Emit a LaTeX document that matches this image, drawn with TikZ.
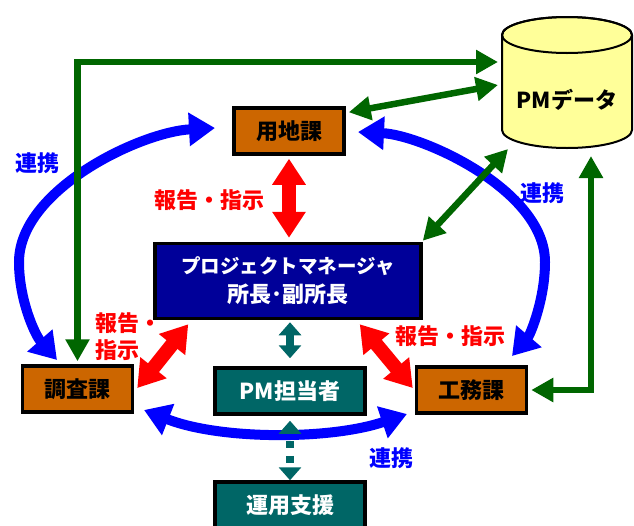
\documentclass[tikz,border=0pt]{standalone}
\usepackage{fontspec}
\setmainfont{Noto Sans CJK JP}
\usetikzlibrary{arrows.meta,calc}
\definecolor{orng}{HTML}{CC6600}
\definecolor{tealc}{HTML}{006666}
\definecolor{navy}{HTML}{000099}
\definecolor{dbfill}{HTML}{FFFF99}
\definecolor{grn}{HTML}{006600}
\definecolor{blu}{HTML}{0000FF}
\definecolor{rd}{HTML}{FF0000}
\begin{document}
\begin{tikzpicture}[x=1pt,y=-1pt,
  jfont/.style={font=\bfseries\fontsize{22pt}{27pt}\selectfont},
  box/.style={jfont, draw=black, line width=3.5pt, minimum height=46pt, inner sep=0pt},
  secbox/.style={box, fill=orng, text=black, minimum width=110pt},
  tealbox/.style={box, fill=tealc, text=white, minimum width=150pt},
  pmbox/.style={box, fill=navy, text=white, minimum width=266pt, minimum height=75pt, align=center, font=\bfseries\fontsize{22pt}{29pt}\selectfont},
  lbl/.style={jfont},
  garrow/.style={draw=grn, line width=6.5pt, {Triangle[length=22pt,width=23pt]}-{Triangle[length=22pt,width=23pt]}},
  barrow/.style={draw=blu, line width=10pt, {Triangle[length=26pt,width=32pt]}-{Triangle[length=26pt,width=32pt]}},
  rarrow/.style={draw=rd, line width=14pt, {Triangle[length=26pt,width=32pt]}-{Triangle[length=26pt,width=32pt]}},
  tarrow/.style={draw=tealc, line width=8pt, {Triangle[length=13pt,width=22pt]}-{Triangle[length=13pt,width=22pt]}},
]
\useasboundingbox (0,0) rectangle (634,525);
\clip (0,0) rectangle (634,525);

% database cylinder
\filldraw[fill=dbfill, draw=black, line width=2pt]
  (502,35) -- (502,130) arc[start angle=180, end angle=0, x radius=65, y radius=18]
  -- (632,35) arc[start angle=0, end angle=-180, x radius=65, y radius=18] -- cycle;
\draw[line width=2pt] (567,35) ellipse[x radius=65, y radius=18];
\node[lbl] (db) at (567,100) {PMデータ};

% nodes
\node[secbox] (yochi) at (289,131) {用地課};
\node[pmbox] (pm) at (288,281) {{\fontsize{19.5pt}{29pt}\selectfont プロジェクトマネージャ}\\所長･副所長};
\node[secbox] (chosa) at (77.5,389) {調査課};
\node[tealbox] (tanto) at (290,391) {PM担当者};
\node[secbox] (koumu) at (471.5,390) {工務課};
\node[tealbox] (unyo) at (290,505) {運用支援};

% free ends
\coordinate (dbA) at (498,62);
\coordinate (dbB) at (498,85);
\coordinate (dbC) at (508,149);
\coordinate (dbD) at (591,156);
\coordinate (bL1) at (215,128);
\coordinate (bL2) at (57,360);
\coordinate (bR1) at (358,132);
\coordinate (bR2) at (512,356);
\coordinate (bB1) at (144,410);
\coordinate (bB2) at (407,414);

% blue links
\draw[barrow] (bL1) .. controls (140,132) and (19,190) .. (19,262) .. controls (19,300) and (35,335) .. (bL2);
\draw[barrow] (bR1) .. controls (422,135) and (545,190) .. (545,262) .. controls (545,300) and (530,335) .. (bR2);
\draw[barrow] (bB1) .. controls (220,440) and (330,440) .. (bB2);

% green data links
\draw[garrow] ($(chosa.north)+(0,-3)$) |- (dbA);
\draw[garrow] ($(yochi.north east)+(3,6)$) -- (dbB);
\draw[garrow] ($(pm.north east)+(0,-1)$) -- (dbC);
\draw[garrow] ($(koumu.east)+(3,0)$) -| (dbD);

% red report arrows
\draw[rarrow, shorten <=3pt, shorten >=4pt] (yochi.south) -- (yochi.south |- pm.north);
\draw[rarrow] ($(pm.south west)+(35,4)$) -- ($(chosa.east)+(3,-1)$);
\draw[rarrow] ($(pm.south east)+(-63,4)$) -- ($(koumu.west)+(-2,-2)$);

% teal arrows
\draw[tarrow, shorten <=2pt, shorten >=8pt] (tanto.north |- pm.south) -- (tanto.north);
\draw[tarrow, dash pattern=on 7pt off 8pt, dash phase=7pt, shorten <=5pt] (tanto.south) -- (unyo.north);

% labels
\node[lbl, text=blu] (l1) at (37,163) {連携};
\node[lbl, text=blu] (l2) at (542,193) {連携};
\node[lbl, text=blu] (l3) at (391,458) {連携};
\node[lbl, text=rd] (r1) at (209,200) {報告・指示};
\node[lbl, text=rd, align=left, anchor=north west, inner sep=0pt] (r2) at (95,312) {報告・\\指示};
\node[lbl, text=rd] (r3) at (450,336) {報告・指示};
\end{tikzpicture}
\end{document}
